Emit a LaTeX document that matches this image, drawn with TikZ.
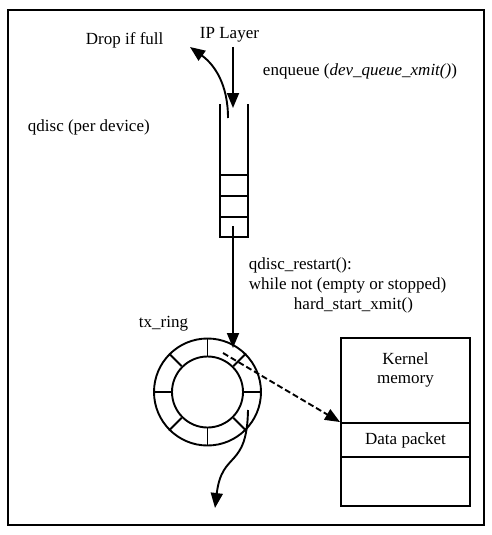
\documentclass[tikz,border=0pt]{standalone}
\usepackage{fontspec}
\setmainfont{Liberation Serif}
\usetikzlibrary{arrows.meta}
\begin{document}
\begin{tikzpicture}[x=1pt,y=-1pt,
  line width=1.9pt,
  lbl/.style={inner sep=0pt,anchor=base west,font=\fontsize{17}{20}\selectfont},
  lblc/.style={inner sep=0pt,anchor=base,font=\fontsize{17}{20}\selectfont},
  arr/.style={-{Triangle[length=15pt,width=12pt]}},
  ring/.style={draw,circle,line width=1.9pt,inner sep=0pt}]
\useasboundingbox (0,0) rectangle (491,535);
\draw[line width=2.2pt] (8,10) rectangle (484,525);

% labels
\node[lbl] (drop) at (85,45) {Drop if full};
\node[lbl] (ip) at (199,39) {IP Layer};
\node[lbl] (enq) at (262,75) {enqueue (\textit{dev\_queue\_xmit()})};
\node[lbl] (qd) at (27,131) {qdisc (per device)};
\node[lbl] (r1) at (248,269) {qdisc\_restart():};
\node[lbl] (r2) at (248,289) {while not (empty or stopped)};
\node[lbl] (r3) at (293,309) {hard\_start\_xmit()};
\node[lbl] (tx) at (138,327) {tx\_ring};

% queue
\coordinate (qtl) at (220,104);
\coordinate (qtr) at (248,104);
\coordinate (qbl) at (220,237);
\coordinate (qbr) at (248,237);
\draw (qtl) -- (qbl) -- (qbr) -- (qtr);
\draw (220,175) -- (248,175);
\draw (220,196) -- (248,196);
\draw (220,217) -- (248,217);

% enqueue arrow
\coordinate (ipbot) at (233,47);
\coordinate (qin) at (233,108);
\draw[arr] (ipbot) -- (qin);

% drop arrow
\coordinate (dstart) at (228,118);
\coordinate (dend) at (190,47);
\draw[arr] (dstart) .. controls (228,85) and (215,65) .. (dend);

% ring
\coordinate (rc) at (207.5,392);
\node[ring,minimum size=107pt] (outer) at (rc) {};
\node[ring,minimum size=71pt] (inner) at (rc) {};
\foreach \a in {0,45,...,315}
  \draw (inner.\a) -- (outer.\a);

% dequeue arrow
\coordinate (qout) at (233,226);
\coordinate (rin) at (233,348);
\draw[arr] (qout) -- (rin);

% kernel memory
\node[draw,minimum width=129pt,minimum height=85pt,inner sep=0pt] (km) at (405.5,380.5) {};
\node[draw,minimum width=129pt,minimum height=34pt,inner sep=0pt] (dp) at (405.5,440) {};
\node[draw,minimum width=129pt,minimum height=49pt,inner sep=0pt] (free) at (405.5,481.5) {};
\node[lblc] (k1) at (405.5,364) {Kernel};
\node[lblc] (k2) at (405.5,383) {memory};
\node[lblc] (dpt) at (405.5,444) {Data packet};

% dashed pointer
\coordinate (dstart2) at (223,353);
\draw[arr,dashed,dash pattern=on 6pt off 3pt] (dstart2) -- (dp.north west);

% transmit arrow
\coordinate (tstart) at (248,410);
\coordinate (tend) at (215,508);
\draw[arr] (tstart) .. controls (247,470) and (222,450) .. (tend);
\end{tikzpicture}
\end{document}
